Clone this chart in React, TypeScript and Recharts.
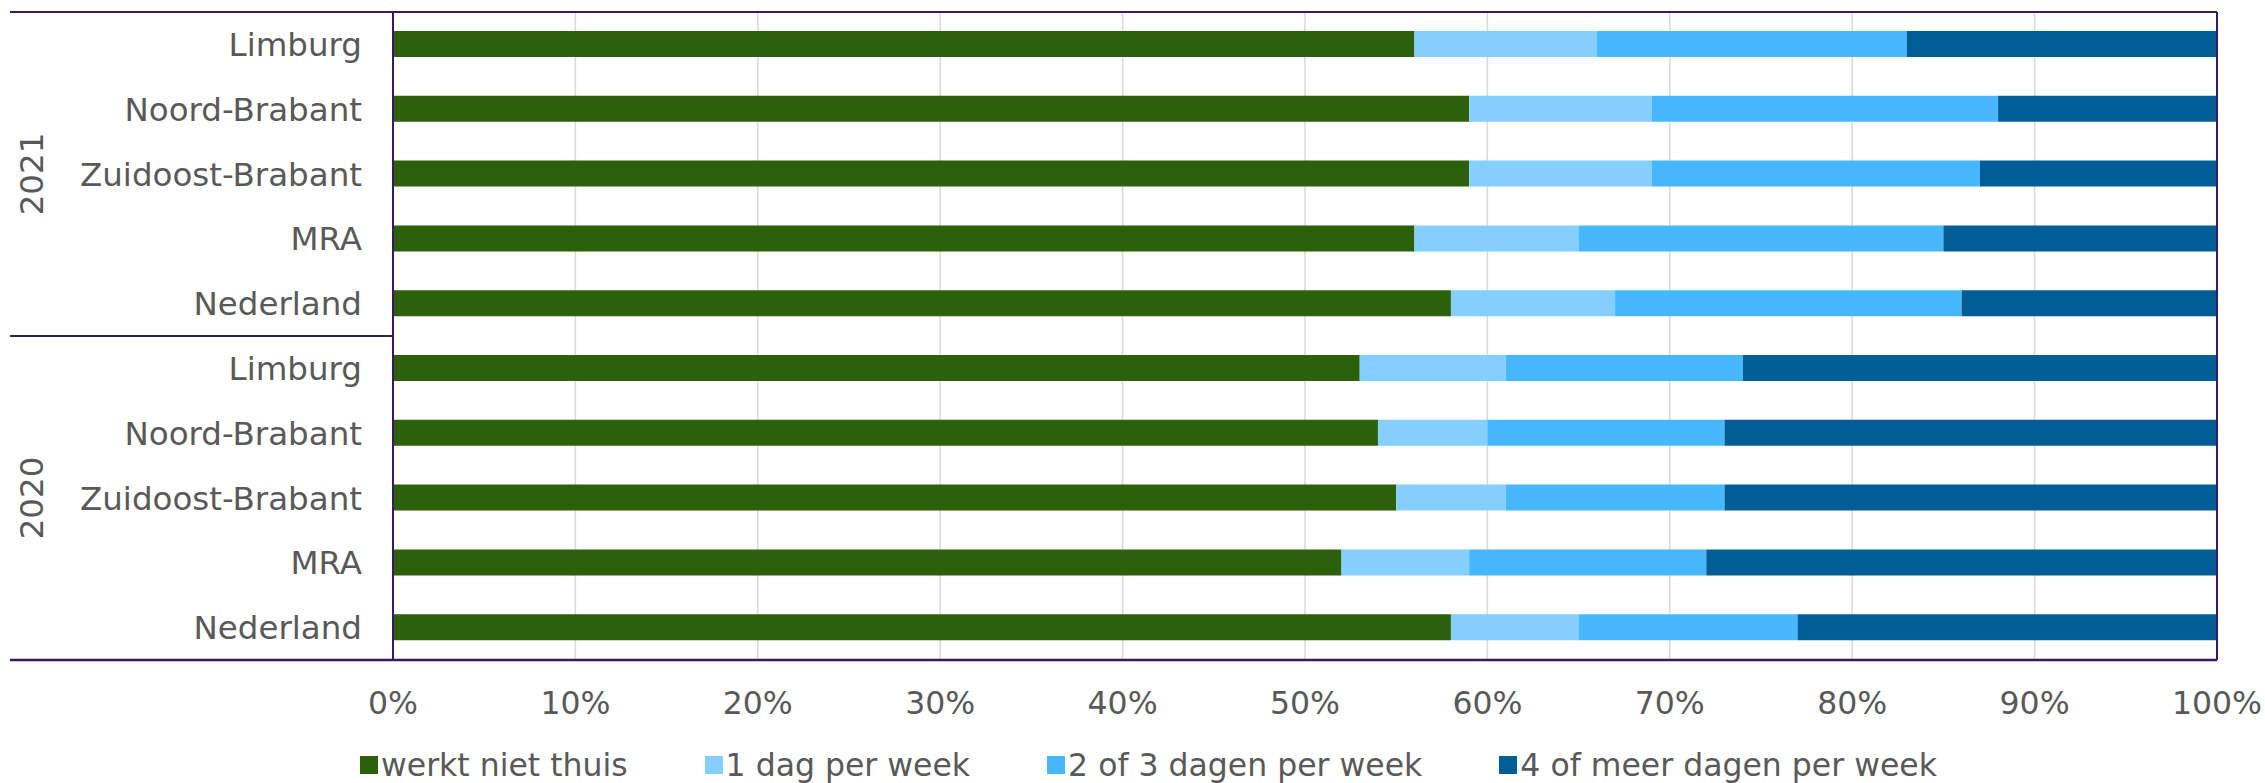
import React from 'react';
import {
  Bar,
  BarChart,
  CartesianGrid,
  Legend,
  ReferenceLine,
  XAxis,
  YAxis,
} from 'recharts';

// rows top to bottom: 2021 block first, then 2020
const years = ['2021', '2020'];
const regions = ['Limburg', 'Noord-Brabant', 'Zuidoost-Brabant', 'MRA', 'Nederland'];

// shares in %, one value per row (2021 x5, then 2020 x5)
const werktNietThuis = [56, 59, 59, 56, 58, 53, 54, 55, 52, 58];
const eenDag = [10, 10, 10, 9, 9, 8, 6, 6, 7, 7];
const tweeOfDrieDagen = [17, 19, 18, 20, 19, 13, 13, 12, 13, 12];
const vierOfMeerDagen = [17, 12, 13, 15, 14, 26, 27, 27, 28, 23];

const xTicks = [0, 10, 20, 30, 40, 50, 60, 70, 80, 90, 100];

const series = [
  { key: 'werkt', name: 'werkt niet thuis', color: '#2c600a' },
  { key: 'dag1', name: '1 dag per week', color: '#84cffd' },
  { key: 'dag23', name: '2 of 3 dagen per week', color: '#47b8fe' },
  { key: 'dag4', name: '4 of meer dagen per week', color: '#025c96' },
];

const rows = years.flatMap((year) => regions.map((region) => ({ year, region })));

const data = rows.map((r, i) => ({
  id: `${r.year}-${r.region}`,
  year: r.year,
  region: r.region,
  werkt: werktNietThuis[i],
  dag1: eenDag[i],
  dag23: tweeOfDrieDagen[i],
  dag4: vierOfMeerDagen[i],
}));

const TEXT = '#595959';
const FRAME = '#3d1762';
const FONT_SIZE = 31.5;
const LABEL_SIZE = 32.5;

// category tick: region name, plus the rotated year on the middle row of each block
const CategoryTick = (props: any) => {
  const { x, y, payload } = props;
  const row = data.find((d) => d.id === payload.value);
  if (!row) return null;
  const isMiddle = regions.indexOf(row.region) === 2;
  return (
    <g>
      <text x={x} y={y + 11.5} textAnchor='end' fill={TEXT} fontSize={LABEL_SIZE}>
        {row.region}
      </text>
      {isMiddle && (
        <text
          transform={`translate(43, ${y}) rotate(-90)`}
          textAnchor='middle'
          fill={TEXT}
          fontSize={LABEL_SIZE}
        >
          {row.year}
        </text>
      )}
    </g>
  );
};

const LegendContent = () => (
  <div
    style={{
      display: 'flex',
      alignItems: 'center',
      height: 38,
      paddingLeft: 360,
      fontSize: FONT_SIZE,
      color: TEXT,
      whiteSpace: 'nowrap',
    }}
  >
    {series.map((s) => (
      <div key={s.key} style={{ display: 'flex', alignItems: 'center', marginRight: 77 }}>
        <span style={{ width: 18, height: 18, background: s.color, marginRight: 3 }} />
        <span>{s.name}</span>
      </div>
    ))}
  </div>
);

const App: React.FC = () => {
  const firstId = data[0].id;
  const lastId = data[data.length - 1].id;
  const splitId = data[regions.length - 1].id;

  return (
    <div style={{ position: 'absolute', left: 0, top: 0, fontFamily: "'DejaVu Sans', Verdana, sans-serif" }}>
      <BarChart
        width={2265}
        height={783}
        data={data}
        layout='vertical'
        margin={{ top: 12, right: 48, left: 0, bottom: 0 }}
      >
        <CartesianGrid horizontal={false} stroke='#d9d9d9' strokeWidth={1.5} />
        <XAxis
          type='number'
          domain={[0, 100]}
          ticks={xTicks}
          tickFormatter={(v) => `${v}%`}
          axisLine={false}
          tickLine={false}
          tickSize={0}
          tickMargin={32}
          height={123}
          tick={{ fill: TEXT, fontSize: FONT_SIZE }}
          interval={0}
        />
        <YAxis
          type='category'
          dataKey='id'
          width={393}
          axisLine={{ stroke: FRAME, strokeWidth: 2 }}
          tickLine={false}
          tickSize={0}
          tickMargin={31}
          tick={<CategoryTick />}
          interval={0}
        />
        {series.map((s) => (
          <Bar
            key={s.key}
            dataKey={s.key}
            name={s.name}
            stackId='a'
            fill={s.color}
            barSize={26}
            isAnimationActive={false}
          />
        ))}
        <ReferenceLine x={100} stroke={FRAME} strokeWidth={2} />
        <ReferenceLine
          y={firstId}
          position='start'
          shape={(p: any) => (
            <line x1={10} x2={p.x2} y1={p.y1} y2={p.y1} stroke={FRAME} strokeWidth={2} />
          )}
        />
        <ReferenceLine
          y={splitId}
          position='end'
          shape={(p: any) => (
            <line x1={10} x2={p.x1} y1={p.y1} y2={p.y1} stroke={FRAME} strokeWidth={2} />
          )}
        />
        <ReferenceLine
          y={lastId}
          position='end'
          shape={(p: any) => (
            <line x1={10} x2={p.x2} y1={p.y1} y2={p.y1} stroke={FRAME} strokeWidth={2.5} />
          )}
        />
        <Legend
          layout='horizontal'
          verticalAlign='middle'
          align='center'
          content={<LegendContent />}
          wrapperStyle={{ top: 746, left: 0, width: 2265 }}
        />
      </BarChart>
    </div>
  );
};

export default App;
